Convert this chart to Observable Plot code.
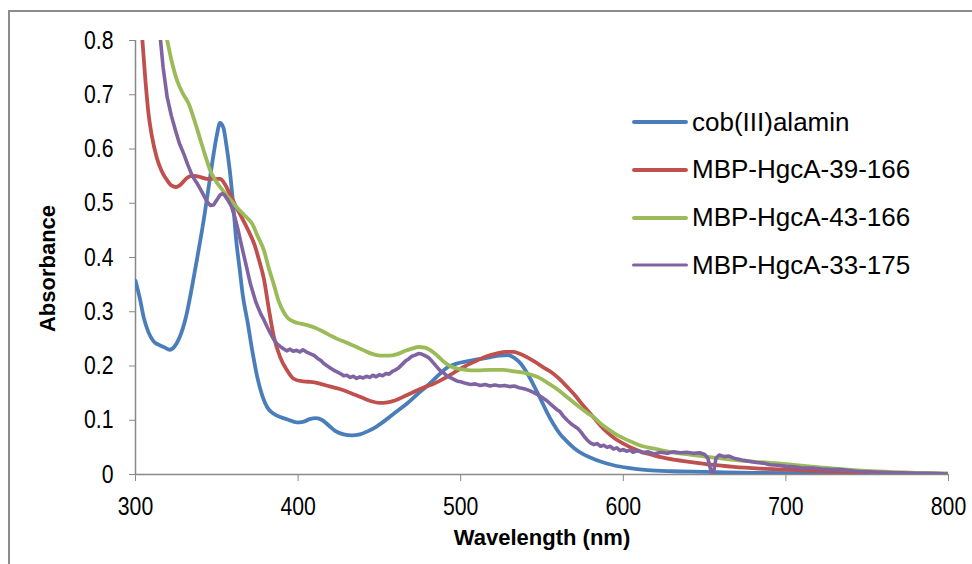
<!DOCTYPE html>
<html>
<head>
<meta charset="utf-8">
<script src="https://cdn.jsdelivr.net/npm/d3@7"></script>
<script src="https://cdn.jsdelivr.net/npm/@observablehq/plot@0.6"></script>
<style>
  body { margin: 0; background: #fff; }
  #wrap { position: relative; width: 972px; height: 564px; overflow: hidden; background: #fff; }
  #frame { position: absolute; left: 8px; top: 10px; width: 1000px; height: 600px; border: 2px solid #8c8c8c; }
  #chart { position: absolute; left: 0; top: 0; }
  #legend { position: absolute; left: 632px; top: 0; font-family: "Liberation Sans", Arial, sans-serif; font-size: 26px; color: #000; }
  .row { position: absolute; left: 0; height: 40px; display: flex; align-items: center; white-space: nowrap; }
  .row svg { margin-right: 4px; }
</style>
</head>
<body>
<div id="wrap">
  <div id="frame"></div>
  <div id="chart"></div>
  <div id="legend"></div>
</div>
<script>
// ---- data ----
const seriesNames = ["cob(III)alamin", "MBP-HgcA-39-166", "MBP-HgcA-43-166", "MBP-HgcA-33-175"];
const seriesColors = ["#4a7ebb", "#c0504d", "#9bbb59", "#8064a2"];

const blueWl  = [300,303,305,308,311,315,318,321,324,327,331,335,338,342,345,348,350,352,354,356,358,360,362,364,366,369,372,375,378,381,385,389,394,399,403,407,411,415,419,423,428,433,438,443,448,455,461,467,473,480,487,492,497,503,510,518,524,529,533,537,541,545,549,553,557,561,565,570,575,580,586,594,603,615,630,650,680,720,760,800];
const blueAbs = [0.357,0.32,0.29,0.262,0.246,0.238,0.234,0.23,0.236,0.252,0.29,0.35,0.40,0.47,0.53,0.59,0.625,0.648,0.64,0.605,0.56,0.5,0.43,0.38,0.33,0.28,0.225,0.178,0.145,0.124,0.112,0.106,0.101,0.096,0.097,0.102,0.104,0.1,0.09,0.08,0.074,0.072,0.074,0.08,0.088,0.103,0.117,0.131,0.147,0.165,0.185,0.198,0.204,0.208,0.212,0.216,0.219,0.22,0.215,0.204,0.186,0.164,0.14,0.115,0.093,0.075,0.062,0.048,0.038,0.031,0.024,0.017,0.012,0.008,0.006,0.005,0.003,0.002,0.001,0.0];

const redWl  = [300,302,304,306,308,310,313,316,319.5,322,325,328,331,335,339,344,348,352,355,358,362,366,369,373,376,379,382,385,389,393,397,402,406,410,415,420,425,430,435,440,445,450,455,460,466,471,477,484,491,497,503,510,516,522,528,532,536,541,546,551,556,560,565,570,574,578,582,586,590,595,600,606,612,618,623,632,642,654,668,684,700,725,750,775,800];
const redAbs = [1.0,0.9,0.81,0.73,0.665,0.625,0.585,0.56,0.542,0.533,0.53,0.535,0.545,0.551,0.549,0.545,0.545,0.545,0.535,0.517,0.493,0.47,0.452,0.425,0.395,0.36,0.305,0.255,0.216,0.193,0.177,0.172,0.171,0.17,0.166,0.162,0.158,0.153,0.147,0.141,0.135,0.132,0.133,0.137,0.145,0.152,0.16,0.168,0.179,0.19,0.2,0.21,0.218,0.223,0.226,0.226,0.223,0.216,0.207,0.197,0.188,0.178,0.163,0.147,0.132,0.118,0.104,0.09,0.078,0.066,0.057,0.048,0.041,0.036,0.032,0.027,0.023,0.018,0.014,0.011,0.009,0.006,0.004,0.002,0.0];

const greenWl  = [315,319.5,322,325.6,329,332.8,336,340,343,346,349,352,356,360.5,364,368,371.8,375,379,382,385,388,391,393.5,397,401.5,406,410,415,420,424,430,436,441,446,451,456,461,466,470,474,478,482,486,490,494,498,503,510,518,526,533,541,547,553,559,564,569,574,578,582,586,590,595,600,606,612,618,623,630,640,653,668,684,700,725,756,780,800];
const greenAbs = [0.86,0.8,0.765,0.726,0.703,0.683,0.655,0.616,0.587,0.56,0.543,0.53,0.515,0.499,0.487,0.475,0.462,0.44,0.413,0.38,0.351,0.32,0.3,0.289,0.282,0.278,0.275,0.271,0.264,0.256,0.25,0.243,0.235,0.228,0.222,0.219,0.219,0.222,0.228,0.232,0.235,0.234,0.228,0.218,0.207,0.199,0.195,0.193,0.192,0.193,0.193,0.19,0.186,0.18,0.17,0.158,0.146,0.134,0.122,0.113,0.105,0.094,0.085,0.075,0.067,0.059,0.052,0.048,0.045,0.041,0.037,0.032,0.027,0.023,0.019,0.012,0.0055,0.003,0.002];

const purpleWl  = [312,315.4,317,319.5,322,324.6,327,329.7,332,335,338,341,344,346,348,350,352,353.5,355,357,359,361,363,365,367.7,370.7,374,377,379,381,383,385,387,389,391,393,395,397,399,401,403,405.6,408,410,412,414,416,418,420,422,424,426,428,430,432,434,436,438,440,442,444,446,448,450,452,454,456,458,460,462,464,466,468,470,472,474,476,478,480,482,484,486,488,490,492,494,496,498,500,503,506,509,512,515,518,521,524,527,530,533,536,539,542,545,548,551,553,556,559,561,563,565.5,568,570,572,574,576,578,580,582,584,586,588,590,592,594,596,598,600,602,604,606,609,612,615,619,623,627,631,635,639,643,647,650,652,654,655.5,657,659,662,665,668,671,674,678,682,686,690,695,700,705,710,716,722,728,734,740,746,752,758,765,772,780,790,800];
const purpleAbs = [0.89,0.8,0.75,0.695,0.662,0.634,0.61,0.591,0.572,0.55,0.536,0.52,0.503,0.496,0.497,0.506,0.515,0.518,0.514,0.505,0.494,0.475,0.452,0.425,0.39,0.351,0.318,0.296,0.285,0.272,0.26,0.249,0.241,0.236,0.232,0.228,0.231,0.227,0.229,0.226,0.23,0.225,0.222,0.219,0.214,0.21,0.204,0.2,0.196,0.192,0.189,0.186,0.182,0.183,0.179,0.181,0.177,0.18,0.178,0.181,0.179,0.183,0.18,0.184,0.182,0.186,0.185,0.19,0.193,0.197,0.203,0.209,0.213,0.218,0.22,0.223,0.222,0.219,0.216,0.21,0.203,0.196,0.19,0.186,0.181,0.178,0.175,0.172,0.171,0.168,0.166,0.167,0.164,0.166,0.163,0.165,0.163,0.164,0.162,0.163,0.16,0.158,0.155,0.151,0.146,0.14,0.136,0.128,0.12,0.116,0.108,0.1,0.093,0.089,0.085,0.078,0.07,0.063,0.058,0.055,0.057,0.052,0.054,0.05,0.052,0.047,0.049,0.044,0.046,0.043,0.045,0.041,0.044,0.04,0.042,0.038,0.041,0.039,0.042,0.04,0.041,0.039,0.04,0.037,0.03,0.005,0.004,0.03,0.036,0.033,0.034,0.03,0.028,0.026,0.024,0.022,0.021,0.018,0.017,0.015,0.014,0.012,0.012,0.01,0.009,0.009,0.007,0.005,0.005,0.004,0.003,0.003,0.002,0.002,0.001];

const xTicks = [300, 400, 500, 600, 700, 800];
const yTicks = [0, 0.1, 0.2, 0.3, 0.4, 0.5, 0.6, 0.7, 0.8];
const yTickLabels = ["0", "0.1", "0.2", "0.3", "0.4", "0.5", "0.6", "0.7", "0.8"];
const xTitle = "Wavelength (nm)";
const yTitle = "Absorbance";

// ---- build tables ----
const wls = [blueWl, redWl, greenWl, purpleWl];
const abss = [blueAbs, redAbs, greenAbs, purpleAbs];
const tables = wls.map((w, s) => w.map((x, i) => ({x, y: abss[s][i], series: seriesNames[s]})));

const tickFont = '"Liberation Sans", Arial, sans-serif';
const titleFont = '"Liberation Sans", Arial, sans-serif';

const lineMarks = tables.map((t, s) => Plot.line(t, {
  x: "x", y: "y",
  stroke: seriesColors[s],
  strokeWidth: s === 3 ? 3.6 : 3.8,
  curve: s === 3 ? "linear" : "monotone-x",
  clip: true
}));

const chart = Plot.plot({
  width: 972,
  height: 564,
  marginLeft: 135,
  marginRight: 24,
  marginTop: 40,
  marginBottom: 90,
  x: {domain: [300, 800]},
  y: {domain: [0, 0.8]},
  style: {background: "transparent", fontFamily: tickFont, fontSize: "25px", color: "#000", overflow: "visible"},
  marks: [
    Plot.ruleX([300], {stroke: "#888", strokeWidth: 1.5}),
    Plot.ruleY([0], {stroke: "#888", strokeWidth: 1.5}),
    Plot.axisY({ticks: yTicks, tickSize: 6, tickPadding: 16, tickFormat: d => yTickLabels[yTicks.indexOf(d)], label: null, stroke: "#888", fill: "#000", fontSize: 25}),
    Plot.axisX({ticks: xTicks, tickSize: 7, tickPadding: 16, tickFormat: d => String(d), label: null, stroke: "#888", fill: "#000", fontSize: 25}),
    ...lineMarks,
    Plot.text([yTitle], {frameAnchor: "left", text: d => d, textAnchor: "middle", lineAnchor: "middle", rotate: -90, dx: -88, dy: 11, fontWeight: "bold", fontSize: 22, fontFamily: titleFont, fill: "#000"}),
    Plot.text([xTitle], {frameAnchor: "bottom", text: d => d, textAnchor: "middle", dy: 70, fontWeight: "bold", fontSize: 22, fontFamily: titleFont, fill: "#000"})
  ]
});
document.getElementById("chart").appendChild(chart);

// condense tick labels (reference uses a narrow face)
chart.querySelectorAll('[aria-label="y-axis tick label"] text, [aria-label="x-axis tick label"] text').forEach(t => {
  const w = t.getComputedTextLength();
  t.setAttribute("textLength", (w * 0.85).toFixed(2));
  t.setAttribute("lengthAdjust", "spacingAndGlyphs");
});

// ---- legend ----
const legend = document.getElementById("legend");
const legendTop = 122.3, legendStep = 47.6;
seriesNames.forEach((name, i) => {
  const row = document.createElement("div");
  row.className = "row";
  row.style.top = (legendTop + i * legendStep - 20) + "px";
  const sw = i === 3 ? 3.2 : 4.2;
  row.innerHTML = `<svg width="56" height="10"><line x1="${sw/2}" y1="5" x2="${56 - sw/2}" y2="5" stroke="${seriesColors[i]}" stroke-width="${sw}" stroke-linecap="round"/></svg><span>${name}</span>`;
  legend.appendChild(row);
});
</script>
</body>
</html>
